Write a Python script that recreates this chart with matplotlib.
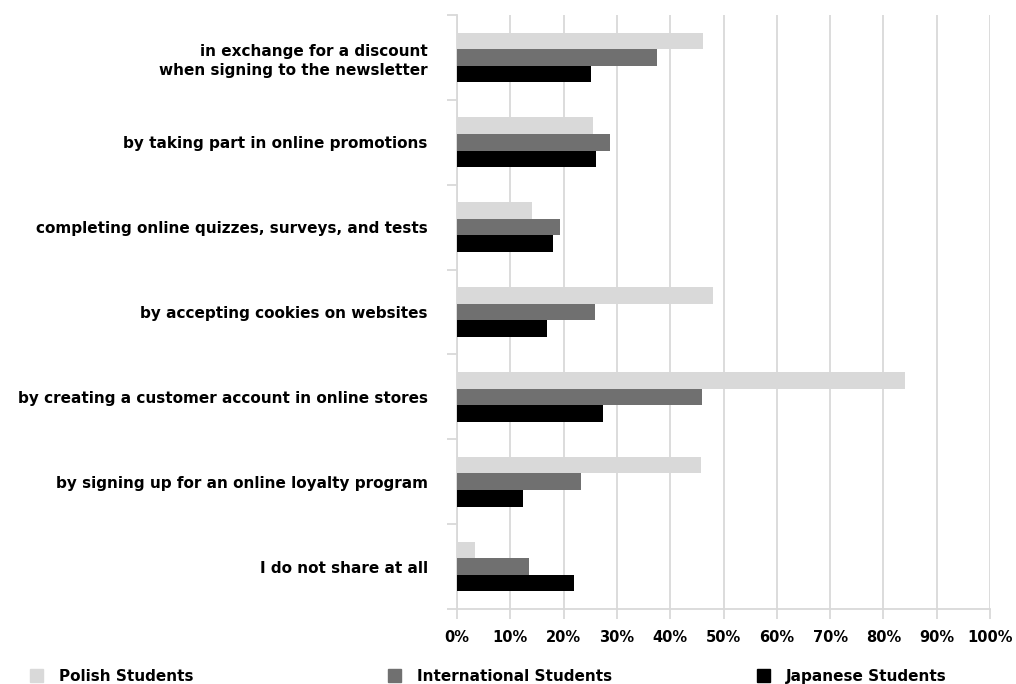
import matplotlib.pyplot as plt
from matplotlib.patches import Patch
import numpy as np

# categories, top to bottom
categories = [
    "in exchange for a discount\nwhen signing to the newsletter",
    "by taking part in online promotions",
    "completing online quizzes, surveys, and tests",
    "by accepting cookies on websites",
    "by creating a customer account in online stores",
    "by signing up for an online loyalty program",
    "I do not share at all",
]
series_names = ["Polish Students", "International Students", "Japanese Students"]
polish = [46.2, 25.6, 14.0, 48.1, 84.0, 45.8, 3.3]
international = [37.6, 28.7, 19.4, 25.8, 46.0, 23.2, 13.6]
japanese = [25.2, 26.0, 18.0, 16.8, 27.4, 12.3, 22.0]
x_ticks = [0, 10, 20, 30, 40, 50, 60, 70, 80, 90, 100]

colors = ["#d9d9d9", "#707070", "#000000"]
plt.rcParams['font.family'] = ['DejaVu Sans']
fs = 11

fig = plt.figure(figsize=(10.16, 6.84), dpi=100)
ax = fig.add_axes([457/1016, 1 - 609/684, (990 - 457)/1016, (609 - 15)/684])

y = np.arange(len(categories))
h = 0.195
for i, vals in enumerate([polish, international, japanese]):
    ax.barh(y + (i - 1) * h, vals, height=h, color=colors[i], zorder=3)

ax.set_xlim(0, 100)
ax.set_ylim(len(categories) - 0.5, -0.5)
ax.set_xticks(x_ticks)
ax.set_xticklabels([f"{t}%" for t in x_ticks], fontsize=10.5, fontweight='bold')
ax.set_yticks(y)
ax.set_yticklabels(categories, fontsize=fs, fontweight='bold', ha='right',
                   multialignment='right', linespacing=1.3)
ax.set_yticks(np.arange(len(categories) + 1) - 0.5, minor=True)

ax.grid(axis='x', color='#d9d9d9', linewidth=1.3, zorder=0)
for s in ['top', 'right']:
    ax.spines[s].set_visible(False)
for s in ['left', 'bottom']:
    ax.spines[s].set_color('#d9d9d9')
    ax.spines[s].set_linewidth(1.3)

ax.tick_params(axis='y', which='major', length=0, pad=21)
ax.tick_params(axis='y', which='minor', length=7, color='#d9d9d9', width=1.3)
ax.tick_params(axis='x', which='major', length=7, color='#d9d9d9', width=1.3, pad=8)

# one legend entry per column, spread along the bottom
legend_x = [25, 383, 752]
for name, c, lx in zip(series_names, colors, legend_x):
    fig.legend(handles=[Patch(color=c)], labels=[name], loc='lower left',
               bbox_to_anchor=(lx / 1016, -0.006), frameon=False, borderpad=0.3,
               borderaxespad=0, prop={'size': fs, 'weight': 'bold'},
               handlelength=0.9, handleheight=0.9, handletextpad=1.0)

fig.savefig("out.png", dpi=100)
